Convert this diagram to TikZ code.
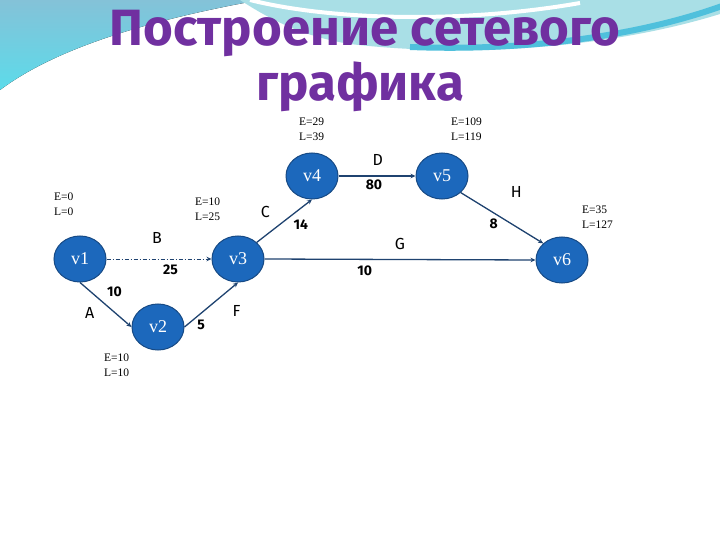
\documentclass[tikz,border=0pt]{standalone}
\usepackage{fontspec}
\setmainfont{Liberation Serif}
\newfontfamily\titlefont{Fira Sans}
\newfontfamily\labelfont{Fira Sans}
\usepackage{tikz}
\usetikzlibrary{arrows.meta,shapes.geometric}
\definecolor{titlecolor}{HTML}{7030A0}
\definecolor{vertexcolor}{HTML}{1C68BC}
\definecolor{vertexline}{HTML}{174A85}
\definecolor{edgecolor}{HTML}{1F4370}
\definecolor{wavecolor}{HTML}{A9DFE6}
\definecolor{skycolor}{HTML}{84C2D8}
\definecolor{skylow}{HTML}{5CDBEA}
\definecolor{stripecolor}{HTML}{4FC0DC}
\newcommand{\est}[2]{E=#1\\L=#2}

\begin{document}
\begin{tikzpicture}[x=1pt,y=-1pt,
 vertex/.style={ellipse,draw=vertexline,fill=vertexcolor,line width=1pt,
                minimum width=52pt,minimum height=46pt,inner sep=0pt,
                text=white,font=\fontsize{18}{18}\selectfont},
 arrow/.style={-{Stealth[length=5pt,width=4.5pt]},edgecolor,line width=1.3pt},
 note/.style={font=\fontsize{11.5}{15}\selectfont,align=left,anchor=north west,inner sep=0pt},
 act/.style={font=\labelfont\fontsize{16}{16}\selectfont,text=black},
 dur/.style={font=\labelfont\bfseries\fontsize{14}{14}\selectfont,text=black},
 heading/.style={font=\titlefont\bfseries\fontsize{51}{51}\selectfont,text=titlecolor,inner sep=0pt}]
 \useasboundingbox (0,0) rectangle (720,540);
 % slide background
 \fill[white] (0,0) rectangle (720,540);
 \fill[top color=skycolor,bottom color=skylow]
   (0,0) -- (260,0) .. controls (160,18) and (60,45) .. (0,90) -- cycle;
 \fill[wavecolor] (240,0) -- (720,0) -- (720,14)
   .. controls (610,48) and (470,58) .. (350,44)
   .. controls (300,36) and (268,18) .. (240,0) -- cycle;
 \draw[white,line width=4pt] (250,0) .. controls (330,20) and (460,24) .. (580,3);
 \draw[stripecolor,line width=6pt] (410,47) .. controls (540,52) and (650,32) .. (722,6);
 % title
 \node[heading] (title1) at (365,33) {Построение сетевого};
 \node[heading] (title2) at (360,87) {графика};
 % events
 \node[vertex] (v1) at (80,259) {v1};
 \node[vertex] (v2) at (158,327) {v2};
 \node[vertex] (v3) at (238,259) {v3};
 \node[vertex] (v4) at (312,176) {v4};
 \node[vertex] (v5) at (442,176) {v5};
 \node[vertex] (v6) at (562,260) {v6};
 % early and late times
 \node[note] (t1) at (54,193) {\est{0}{0}};
 \node[note] (t2) at (104,354) {\est{10}{10}};
 \node[note] (t3) at (195,198) {\est{10}{25}};
 \node[note] (t4) at (299,118) {\est{29}{39}};
 \node[note] (t5) at (451,118) {\est{109}{119}};
 \node[note] (t6) at (582,206) {\est{35}{127}};
 % activities
 \draw[arrow,line width=1pt,dash pattern=on 4pt off 2pt on 1pt off 2pt] (v1.east) --
   node[act,pos=.48,yshift=21pt]{B} node[dur,pos=.61,yshift=-11pt]{25} (v3.west);
 \draw[arrow] (v1.south) --
   node[dur,pos=.67,yshift=21pt]{10} node[act,pos=.19,yshift=-22pt]{A} (v2.west);
 \draw[arrow] (v2.east) --
   node[dur,pos=.31,yshift=-12pt]{5} node[act,pos=.6,xshift=20pt,yshift=-11pt]{F} (v3.south);
 \draw[arrow] (v3.north east) --
   node[act,pos=.3,xshift=-8pt,yshift=18pt]{C} node[dur,pos=.6,xshift=11pt,yshift=-8pt]{14} (v4.south);
 \draw[arrow] (v4.east) --
   node[act,pos=.51,yshift=16pt]{D} node[dur,pos=.46,yshift=-9pt]{80} (v5.west);
 \draw[arrow] (v5.south east) --
   node[act,pos=.6,xshift=6pt,yshift=31pt]{H} node[dur,pos=.4,yshift=-11pt]{8} (v6.north west);
 \draw[arrow] (v3.east) --
   node[act,pos=.5,yshift=16pt]{G} node[dur,pos=.37,yshift=-11pt]{10} (v6.west);
\end{tikzpicture}
\end{document}
